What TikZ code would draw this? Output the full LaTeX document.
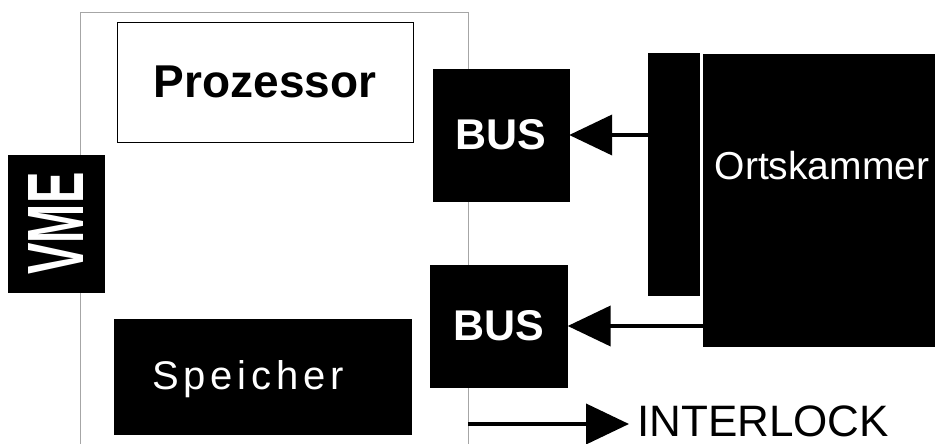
\documentclass[tikz,border=0pt]{standalone}
\usepackage{fontspec}
\setmainfont{Liberation Sans}
\newfontfamily\spacedfont[LetterSpace=12]{Liberation Sans}
\usetikzlibrary{arrows.meta}
\tikzset{
  blackbox/.style={fill=black, draw=black, inner sep=0pt, text=white},
  whitebox/.style={fill=white, draw=black, line width=0.8pt, inner sep=0pt},
  cardline/.style={draw=gray!70, line width=0.8pt},
  bigarrow/.style={line width=4pt, -{Triangle[length=43pt, width=40pt]}},
}
\begin{document}
\begin{tikzpicture}[x=1pt, y=-1pt]
\useasboundingbox (0,0) rectangle (935,444);
% VME card frame
\coordinate (cardbl) at (80,446);
\coordinate (cardtr) at (468,12);
\coordinate (cardbr) at (468,446);
\draw[cardline] (cardbl) |- (cardtr) -- (cardbr);
% boxes
\node[whitebox, minimum width=296pt, minimum height=120pt,
      font=\fontsize{46}{50}\selectfont\bfseries] (proz) at (265,82) {Prozessor};
\node[blackbox, minimum width=96pt, minimum height=137pt] (vme) at (56,223.5) {};
\node[text=white, inner sep=0pt, rotate=90,
      font=\fontsize{47}{50}\selectfont\bfseries] (vmet) at (vme.center) {\scalebox{1}[1.7]{VME}};
\node[blackbox, minimum width=297pt, minimum height=115pt] (speicher) at (262.5,376.5) {};
\node[text=white, inner sep=0pt, font=\fontsize{40}{44}\selectfont\spacedfont] (speichert) at (248,379) {Speicher};
\node[blackbox, minimum width=136pt, minimum height=132pt,
      font=\fontsize{43}{46}\selectfont\bfseries] (bus1) at (501,135) {BUS};
\node[blackbox, minimum width=137pt, minimum height=122pt,
      font=\fontsize{43}{46}\selectfont\bfseries] (bus2) at (499,326) {BUS};
\node[blackbox, minimum width=51pt, minimum height=242pt] (strip) at (673.5,174) {};
\node[blackbox, minimum width=232pt, minimum height=292pt] (orts) at (819,200) {};
\node[text=white, inner sep=0pt, font=\fontsize{39}{42}\selectfont] (ortst) at (822,166) {Ortskammer};
% arrows
\draw[bigarrow] (bus1.east -| strip.west) -- (bus1.east);
\draw[bigarrow] (bus2.east -| orts.west) -- (bus2.east);
\coordinate (ilstart) at (468,424);
\node[anchor=west, inner sep=0pt, font=\fontsize{44}{46}\selectfont] (interlock) at (637,421) {INTERLOCK};
\draw[bigarrow, shorten >=8pt] (ilstart) -- (ilstart -| interlock.west);
\end{tikzpicture}
\end{document}
